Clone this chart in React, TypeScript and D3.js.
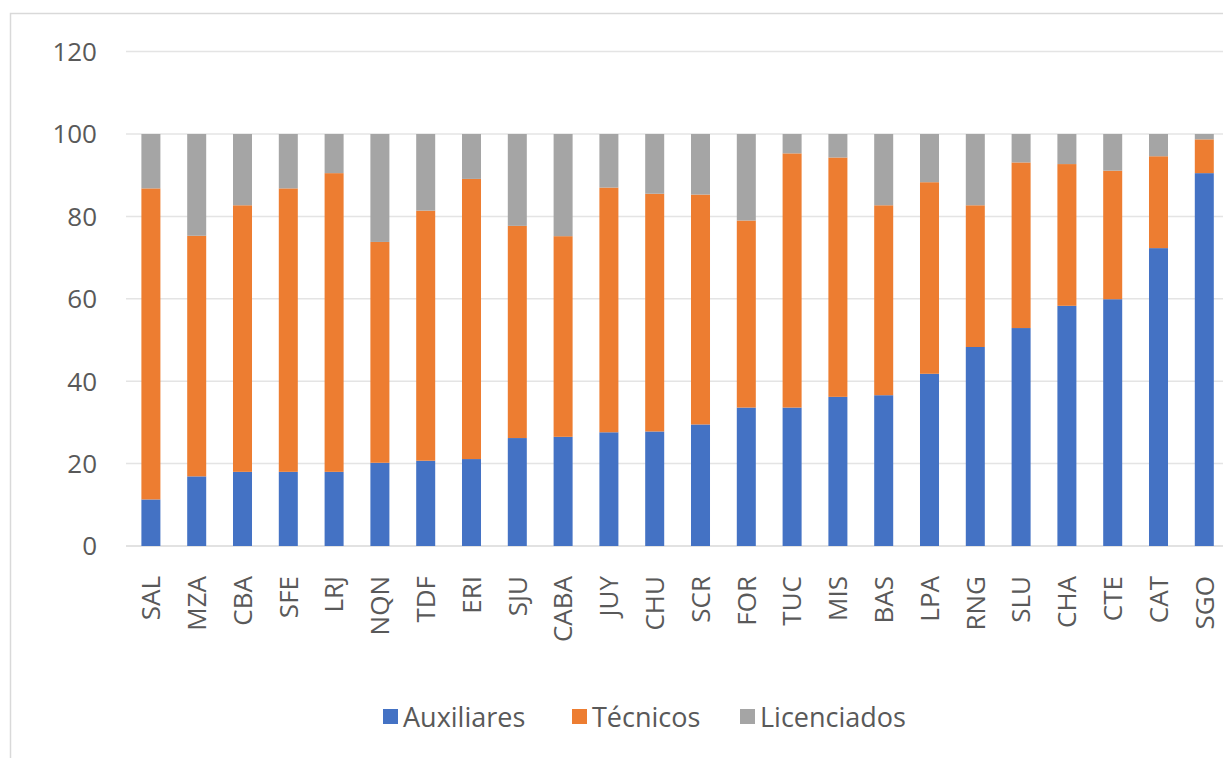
import React, { useEffect, useRef } from "react";
import * as d3 from "d3";

const provinces = [
  "SAL", "MZA", "CBA", "SFE", "LRJ", "NQN", "TDF", "ERI", "SJU", "CABA", "JUY", "CHU",
  "SCR", "FOR", "TUC", "MIS", "BAS", "LPA", "RNG", "SLU", "CHA", "CTE", "CAT", "SGO",
];

const auxiliares = [
  11.3, 16.9, 18.0, 18.0, 18.0, 20.2, 20.7, 21.1, 26.2, 26.5, 27.6, 27.8,
  29.5, 33.6, 33.6, 36.2, 36.6, 41.8, 48.3, 52.9, 58.3, 59.9, 72.3, 90.5,
];

const tecnicos = [
  75.5, 58.4, 64.7, 68.8, 72.5, 53.6, 60.7, 68.0, 51.5, 48.7, 59.4, 57.7,
  55.8, 45.4, 61.7, 58.1, 46.1, 46.5, 34.4, 40.2, 34.4, 31.2, 22.3, 8.2,
];

const licenciados = [
  13.2, 24.7, 17.3, 13.2, 9.5, 26.2, 18.6, 10.9, 22.3, 24.8, 13.0, 14.5,
  14.7, 21.0, 4.7, 5.7, 17.3, 11.7, 17.3, 6.9, 7.3, 8.9, 5.4, 1.3,
];

const seriesNames = ["Auxiliares", "Técnicos", "Licenciados"];
const seriesColors = ["#4472C4", "#ED7D31", "#A5A5A5"];
const yTicks = [0, 20, 40, 60, 80, 100, 120];

function App() {
  const svgRef = useRef<SVGSVGElement>(null);
  const width = 1223;
  const height = 758;

  useEffect(() => {
    const svg = d3.select(svgRef.current);
    svg.selectAll("*").remove();

    const font = "'Open Sans', sans-serif";
    const textColor = "#595959";

    // chart frame (cut off at the right and bottom)
    svg
      .append("path")
      .attr("d", `M10.5,${height} V13.5 H${width}`)
      .attr("fill", "none")
      .attr("stroke", "#d9d9d9")
      .attr("stroke-width", 1.5);

    const x = d3
      .scaleBand()
      .domain(provinces)
      .range([128, 1227.2])
      .paddingInner(0.585)
      .paddingOuter(0.2925);

    const y = d3.scaleLinear().domain([0, 120]).range([546, 51.6]);

    // gridlines
    svg
      .append("g")
      .selectAll("line")
      .data(yTicks)
      .enter()
      .append("line")
      .attr("x1", 126)
      .attr("x2", width)
      .attr("y1", (d) => y(d))
      .attr("y2", (d) => y(d))
      .attr("stroke", (d) => (d === 0 ? "#d9d9d9" : "#e4e4e4"))
      .attr("stroke-width", 1.5);

    // y tick labels
    svg
      .append("g")
      .selectAll("text")
      .data(yTicks)
      .enter()
      .append("text")
      .attr("x", 97)
      .attr("y", (d) => y(d))
      .attr("dy", "0.36em")
      .attr("text-anchor", "end")
      .style("font-family", font)
      .style("font-size", "26px")
      .style("fill", textColor)
      .text((d) => d);

    // stacked bars
    const rows = provinces.map((p, i) => ({
      province: p,
      Auxiliares: auxiliares[i],
      Técnicos: tecnicos[i],
      Licenciados: licenciados[i],
    }));
    const stacked = d3.stack<any>().keys(seriesNames)(rows);

    svg
      .append("g")
      .selectAll("g")
      .data(stacked)
      .enter()
      .append("g")
      .attr("fill", (_, i) => seriesColors[i])
      .selectAll("rect")
      .data((d) => d)
      .enter()
      .append("rect")
      .attr("x", (d: any) => x(d.data.province)!)
      .attr("width", x.bandwidth())
      .attr("y", (d) => y(d[1]))
      .attr("height", (d) => y(d[0]) - y(d[1]));

    // category labels, rotated
    svg
      .append("g")
      .selectAll("text")
      .data(provinces)
      .enter()
      .append("text")
      .attr(
        "transform",
        (d) => `translate(${x(d)! + x.bandwidth() / 2}, 576) rotate(-90)`
      )
      .attr("dy", "0.36em")
      .attr("text-anchor", "end")
      .style("font-family", font)
      .style("font-size", "26px")
      .style("fill", textColor)
      .text((d) => d);

    // legend
    const legendX = [383, 572, 740];
    const legend = svg
      .append("g")
      .selectAll("g")
      .data(seriesNames)
      .enter()
      .append("g")
      .attr("transform", (_, i) => `translate(${legendX[i]}, 717)`);

    legend
      .append("rect")
      .attr("x", 0)
      .attr("y", -8)
      .attr("width", 15)
      .attr("height", 15)
      .attr("fill", (_, i) => seriesColors[i]);

    legend
      .append("text")
      .attr("x", 20)
      .attr("dy", "0.36em")
      .style("font-family", font)
      .style("font-size", "27px")
      .style("fill", textColor)
      .text((d) => d);
  }, []);

  return (
    <svg
      ref={svgRef}
      width={width}
      height={height}
      style={{ position: "absolute", left: 0, top: 0, background: "#fff" }}
    ></svg>
  );
}

export default App;
